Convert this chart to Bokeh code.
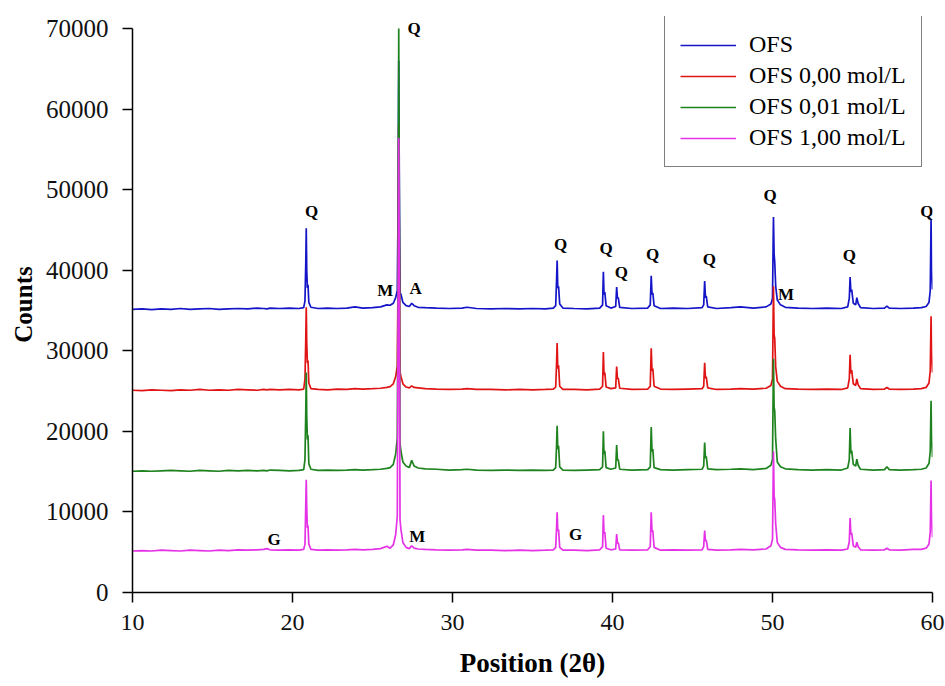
from bokeh.plotting import figure
from bokeh.models import Range1d, FixedTicker, Label, Legend
from bokeh.embed import file_html
from bokeh.resources import INLINE

# ---- data ----
two_theta = [10.0, 10.6, 11.2, 11.8, 12.4, 13.0, 13.6, 14.2, 14.8, 15.4, 16.0, 16.6, 17.2, 17.8,
             18.2, 18.4, 18.6, 19.2, 19.8, 20.4, 20.7, 20.78, 20.83, 20.86, 20.89, 20.93, 20.97,
             21.02, 21.15, 21.6, 22.2, 22.8, 23.4, 23.9, 24.4, 25.0, 25.5, 25.9, 26.1, 26.3,
             26.45, 26.55, 26.6, 26.64, 26.68, 26.72, 26.78, 26.9, 27.1, 27.3, 27.45, 27.6,
             27.85, 28.3, 29.0, 29.8, 30.6, 30.9, 31.5, 32.4, 33.3, 34.2, 35.0, 35.8, 36.3,
             36.45, 36.5, 36.54, 36.58, 36.63, 36.7, 36.9, 37.6, 38.4, 39.2, 39.38, 39.43,
             39.47, 39.52, 39.6, 39.9, 40.2, 40.26, 40.31, 40.36, 40.45, 41.2, 42.2, 42.36,
             42.42, 42.47, 42.52, 42.6, 43.0, 43.8, 44.7, 45.6, 45.7, 45.76, 45.81, 45.86,
             45.95, 46.5, 47.4, 48.0, 48.8, 49.6, 49.9, 50.0, 50.06, 50.1, 50.14, 50.2, 50.3,
             50.5, 50.8, 51.6, 52.5, 53.4, 54.3, 54.7, 54.8, 54.85, 54.9, 54.95, 55.05, 55.2,
             55.27, 55.35, 55.5, 56.3, 57.0, 57.15, 57.3, 58.0, 58.8, 59.3, 59.6, 59.78, 59.86,
             59.91, 59.95, 60.0]

ofs = [35150, 35200, 35100, 35200, 35150, 35250, 35150, 35200, 35250, 35150, 35200, 35250, 35200, 35300,
       35250, 35200, 35300, 35250, 35300, 35250, 35350, 36200, 41000, 45200, 40000, 37800, 38200,
       36000, 35400, 35250, 35300, 35250, 35300, 35450, 35300, 35350, 35450, 35700, 35650, 35900,
       36600, 37500, 48000, 66000, 50000, 37200, 37000, 36000, 35600, 35500, 35900, 35600,
       35400, 35350, 35300, 35250, 35300, 35400, 35250, 35200, 35250, 35200, 35250, 35200, 35300,
       35600, 38500, 41200, 37800, 38000, 35800, 35300, 35250, 35200, 35300, 35700, 39800,
       37000, 37300, 35600, 35300, 35500, 37900, 36500, 36600, 35400, 35250, 35300, 35700,
       39300, 37000, 37200, 35600, 35250, 35300, 35250, 35350, 35700, 38650, 36600, 36800,
       35450, 35250, 35350, 35450, 35300, 35450, 35800, 36500, 46600, 42000, 41000, 38000, 36300,
       35700, 35400, 35300, 35250, 35300, 35250, 35450, 36500, 39150, 37300, 37600, 35900, 35700,
       36600, 35900, 35350, 35250, 35300, 35550, 35300, 35250, 35300, 35350, 35500, 36000, 37500,
       46300, 40000, 37600]

ofs_000 = [25100, 25050, 25150, 25100, 25050, 25150, 25100, 25200, 25100, 25150, 25100, 25200, 25150, 25100,
           25200, 25150, 25200, 25150, 25200, 25150, 25250, 26500, 31500, 35400, 31000, 28500, 28800,
           26000, 25300, 25200, 25150, 25250, 25200, 25300, 25250, 25300, 25350, 25450, 25550, 25900,
           26800, 28100, 40000, 58000, 42000, 27300, 26800, 25900, 25500, 25400, 25650, 25450,
           25400, 25300, 25250, 25200, 25250, 25300, 25200, 25200, 25150, 25200, 25150, 25200, 25250,
           25500, 28200, 30950, 27800, 28200, 25600, 25200, 25200, 25150, 25250, 25600, 29860,
           27000, 27300, 25500, 25300, 25400, 28050, 26500, 26600, 25350, 25200, 25250, 25600,
           30300, 27500, 27800, 25600, 25250, 25200, 25250, 25300, 25600, 28500, 26600, 26800,
           25400, 25200, 25250, 25300, 25250, 25350, 25700, 26500, 38000, 32000, 31500, 28000, 26200,
           25600, 25300, 25250, 25200, 25250, 25200, 25400, 26500, 29500, 27200, 27600, 25900, 25700,
           26500, 25800, 25300, 25200, 25250, 25450, 25250, 25200, 25250, 25300, 25450, 26000, 27500,
           34300, 30000, 27300]

ofs_001 = [15050, 15100, 15050, 15100, 15150, 15100, 15050, 15150, 15100, 15050, 15150, 15100, 15150, 15100,
           15150, 15100, 15200, 15150, 15100, 15150, 15250, 16500, 22500, 27300, 22000, 19000, 19500,
           16000, 15300, 15150, 15200, 15150, 15200, 15250, 15200, 15250, 15300, 15400, 15500, 15900,
           17200, 19200, 40000, 70000, 45000, 18500, 17500, 16200, 15700, 15500, 16400, 15700,
           15450, 15350, 15300, 15200, 15250, 15300, 15200, 15150, 15200, 15150, 15200, 15150, 15200,
           15500, 18000, 20700, 17800, 18200, 15600, 15200, 15150, 15200, 15250, 15600, 20000,
           17200, 17600, 15500, 15300, 15450, 18300, 16400, 16500, 15300, 15200, 15250, 15600,
           20550, 17500, 17800, 15500, 15250, 15200, 15250, 15300, 15700, 18600, 16700, 16900,
           15350, 15250, 15300, 15350, 15250, 15400, 15800, 16500, 29000, 23000, 22500, 19000, 16200,
           15600, 15350, 15250, 15200, 15250, 15200, 15450, 16500, 20400, 17300, 17600, 15900, 15700,
           16550, 15800, 15300, 15200, 15250, 15600, 15250, 15200, 15250, 15300, 15450, 16000, 17500,
           23800, 19500, 16800]

ofs_100 = [5150, 5200, 5150, 5250, 5200, 5150, 5250, 5200, 5150, 5250, 5200, 5300, 5250, 5300,
           5350, 5450, 5300, 5250, 5300, 5250, 5350, 6000, 11000, 14000, 10500, 8000, 8300,
           6000, 5350, 5250, 5300, 5250, 5300, 5350, 5300, 5350, 5450, 5750, 5500, 5900,
           7200, 9500, 35000, 56400, 38000, 9000, 7800, 6200, 5600, 5450, 5800, 5500,
           5400, 5350, 5300, 5250, 5300, 5350, 5250, 5250, 5200, 5250, 5200, 5250, 5300,
           5600, 7800, 9950, 7600, 7800, 5600, 5250, 5250, 5200, 5300, 5700, 9600,
           7300, 7500, 5500, 5300, 5400, 7250, 6100, 6200, 5300, 5250, 5300, 5700,
           9950, 7500, 7700, 5600, 5250, 5300, 5250, 5300, 5700, 7700, 6400, 6500,
           5350, 5250, 5300, 5350, 5300, 5400, 5800, 6600, 17500, 12000, 11500, 8500, 6200,
           5600, 5350, 5300, 5250, 5300, 5250, 5400, 6300, 9250, 7200, 7400, 5800, 5600,
           6250, 5700, 5300, 5250, 5300, 5500, 5300, 5250, 5350, 5350, 5500, 6000, 7500,
           13900, 9500, 6850]

series_names = ["OFS", "OFS 0,00 mol/L", "OFS 0,01 mol/L", "OFS 1,00 mol/L"]
series_colors = ["#1414C8", "#E01414", "#1E821E", "#E632E6"]

x_ticks = [10, 20, 30, 40, 50, 60]
y_ticks = [0, 10000, 20000, 30000, 40000, 50000, 60000, 70000]

peak_labels = ["Q", "Q", "M", "A", "Q", "Q", "Q", "Q", "Q", "Q", "M", "Q", "Q", "G", "M", "G"]
peak_label_x = [21.2, 27.6, 25.8, 27.7, 36.75, 39.6, 40.55, 42.5, 46.05, 49.85, 50.85, 54.8, 59.65, 18.85, 27.8, 37.7]
peak_label_y = [47300, 70000, 37500, 37700, 43200, 42700, 39700, 42000, 41300, 49300, 37000, 41800, 47300, 6600, 6900, 7200]

# ---- figure ----
p = figure(width=945, height=686, output_backend="svg", toolbar_location=None,
           x_range=Range1d(10, 60), y_range=Range1d(0, 71490),
           min_border_left=132, min_border_right=13, min_border_top=16, min_border_bottom=94)
p.outline_line_color = None
p.xgrid.visible = False
p.ygrid.visible = False
p.background_fill_color = "white"
p.border_fill_color = "white"

renderers = []
for ys, name, col in zip([ofs, ofs_000, ofs_001, ofs_100], series_names, series_colors):
    r = p.line(two_theta, ys, line_color=col, line_width=1.7)
    renderers.append((name, [r]))

legend = Legend(items=renderers, location=(532, 425))
legend.label_text_font = "Liberation Serif"
legend.label_text_font_size = "24px"
legend.label_text_color = "black"
legend.glyph_width = 56
legend.glyph_height = 20
legend.label_height = 27
legend.spacing = 4
legend.padding = 15
legend.margin = 0
legend.label_standoff = 13
legend.border_line_color = "black"
legend.border_line_width = 1.5
legend.background_fill_color = "white"
legend.background_fill_alpha = 1.0
p.add_layout(legend)

for txt, lx, ly in zip(peak_labels, peak_label_x, peak_label_y):
    p.add_layout(Label(x=lx, y=ly, text=txt, text_font="Liberation Serif",
                       text_font_style="bold", text_font_size="17px", text_color="black",
                       text_align="center", text_baseline="middle"))

# axes
p.xaxis.ticker = FixedTicker(ticks=x_ticks)
p.yaxis.ticker = FixedTicker(ticks=y_ticks)
p.yaxis.bounds = (0, 70000)
p.xaxis.minor_tick_line_color = None
p.yaxis.minor_tick_line_color = None
for ax in (p.xaxis, p.yaxis):
    ax.axis_line_color = "black"
    ax.axis_line_width = 1.5
    ax.major_tick_line_color = "black"
    ax.major_tick_line_width = 1.5
    ax.major_tick_in = 0
    ax.major_tick_out = 10
    ax.major_label_text_font = "Liberation Serif"
    ax.major_label_text_color = "#111111"
    ax.axis_label_text_font = "Liberation Serif"
    ax.axis_label_text_font_style = "bold"
    ax.axis_label_text_color = "black"

p.xaxis.major_label_text_font_size = "24px"
p.yaxis.major_label_text_font_size = "25px"
p.yaxis.axis_label_text_font_size = "25px"
p.xaxis.axis_label_text_font_size = "27px"
p.yaxis.major_label_standoff = 14
p.xaxis.major_label_standoff = 12
p.yaxis.axis_label = "Counts"
p.xaxis.axis_label = "Position (2θ)"
p.yaxis.axis_label_standoff = 6
p.xaxis.axis_label_standoff = 15

open("out.html", "w").write(file_html(p, INLINE))
